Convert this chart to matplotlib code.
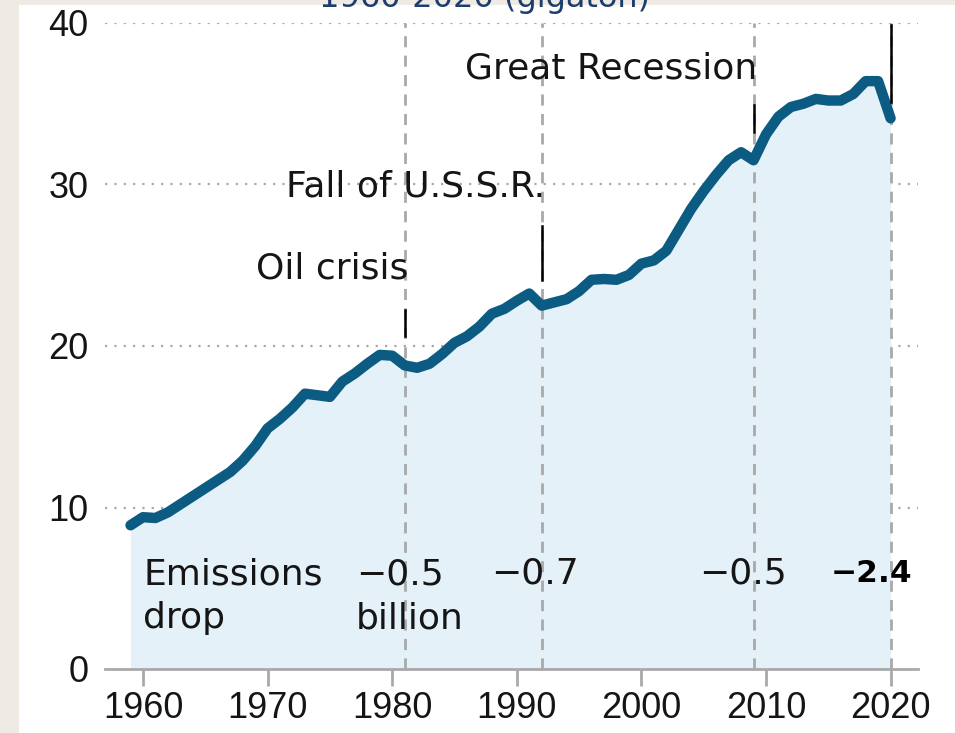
import matplotlib.pyplot as plt
from matplotlib.patches import Rectangle

plt.rcParams['font.family'] = ['DejaVu Sans']

# global CO2 emissions, gigaton
years = list(range(1959, 2021))
emissions = [8.9, 9.4, 9.35, 9.7, 10.2, 10.7, 11.2, 11.7, 12.2, 12.9,
             13.8, 14.9, 15.5, 16.2, 17.05, 16.95, 16.85, 17.8, 18.3, 18.9,
             19.45, 19.4, 18.8, 18.65, 18.9, 19.5, 20.2, 20.6, 21.2, 22.0,
             22.3, 22.8, 23.25, 22.5, 22.7, 22.9, 23.4, 24.1, 24.15, 24.1,
             24.4, 25.1, 25.3, 25.9, 27.2, 28.5, 29.6, 30.6, 31.5, 32.0,
             31.5, 33.1, 34.2, 34.8, 35.0, 35.3, 35.2, 35.2, 35.6, 36.4,
             36.4, 34.1]

event_years = [1981, 1992, 2009, 2020]
event_names = ["Oil crisis", "Fall of U.S.S.R.", "Great Recession", ""]
drops = ["\u22120.5\nbillion", "\u22120.7", "\u22120.5", "\u22122.4"]

line_col = "#0b5b82"
fill_col = "#e4f1f8"
grid_col = "#a9a9a9"
txt_col = "#151515"
ann_font = dict(family="DejaVu Sans", fontsize=26, color=txt_col, zorder=6)

fig = plt.figure(figsize=(9.55, 7.33), dpi=100)
fig.patch.set_facecolor("#efebe4")
fig.patches.append(Rectangle((19 / 955, 0), 1, 1 - 5 / 733, transform=fig.transFigure,
                             facecolor="white", edgecolor="none", zorder=-1))

ax = fig.add_axes([105 / 955, 64 / 733, 813 / 955, 646 / 733])
ax.set_facecolor("none")
ax.set_xlim(1956.95, 2022.2)
ax.set_ylim(0, 40)

for v in [10, 20, 30, 40]:
    ax.axhline(v, color=grid_col, lw=1.6, ls=(0, (1, 3.2)), zorder=1)

ax.fill_between(years, emissions, 0, color=fill_col, lw=0, zorder=2)

for yr in event_years:
    ax.plot([yr, yr], [0, 40], color=grid_col, lw=2, ls=(0, (4, 3)), zorder=3)

ax.plot(years, emissions, color=line_col, lw=7.5, solid_capstyle="round",
        solid_joinstyle="round", zorder=4)

# event markers and labels
marks = [(20.6, 22.2), (24.1, 27.4), (33.25, 34.9), (35.1, 39.9)]
label_y = [24.8, 29.85, 37.2, 0]
for yr, (y0, y1), name, ly in zip(event_years, marks, event_names, label_y):
    ax.plot([yr, yr], [y0, y1], color="black", lw=1.8, zorder=5)
    if name:
        ax.text(yr + 0.3, ly, name, ha="right", va="center", **ann_font)

ax.text(1960, 4.5, "Emissions\ndrop", ha="left", va="center",
        linespacing=1.36, **ann_font)
drop_x = [1977.1, 1987.9, 2004.6, 2021.75]
for i, (dx, txt) in enumerate(zip(drop_x, drops)):
    if i == 0:
        ax.text(dx, 4.5, txt, ha="left", va="center", linespacing=1.36, **ann_font)
    elif i == len(drops) - 1:
        ax.text(dx, 5.94, txt, ha="right", va="center", fontweight="bold",
                fontsize=22.5, color="black", zorder=6)
    else:
        ax.text(dx, 5.94, txt, ha="left", va="center", **ann_font)

for s in ["top", "right", "left"]:
    ax.spines[s].set_visible(False)
ax.spines["bottom"].set_color(grid_col)
ax.spines["bottom"].set_linewidth(2)
ax.spines["bottom"].set_zorder(5)

ax.set_xticks(range(1960, 2021, 10))
ax.set_yticks([0, 10, 20, 30, 40])
ax.tick_params(axis="x", length=12, width=2, color=grid_col, labelsize=26,
               pad=4, labelcolor=txt_col)
ax.tick_params(axis="y", length=0, labelsize=26, pad=12, labelcolor=txt_col)
for lab in ax.get_xticklabels() + ax.get_yticklabels():
    lab.set_family("Liberation Sans")

fig.text(0.507, 1 - 7 / 733, "1960-2020 (gigaton)", ha="center", va="baseline",
         fontsize=23, color="#1c3d6e")

fig.savefig("out.png", dpi=100, facecolor=fig.get_facecolor())
